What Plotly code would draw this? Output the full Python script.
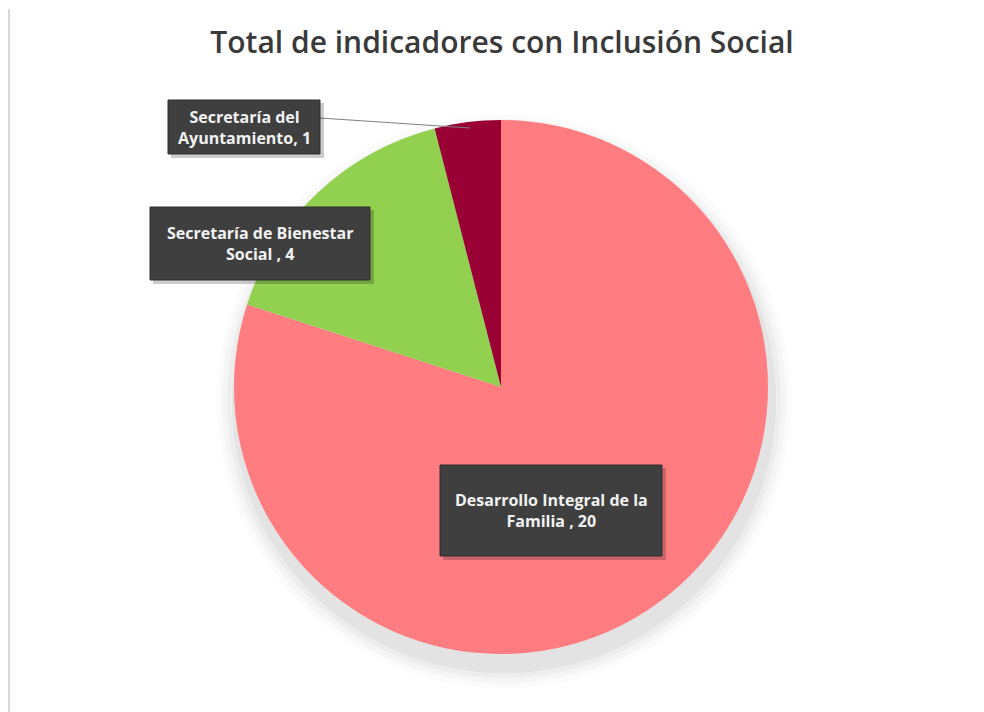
import plotly.graph_objects as go

labels = ["Desarrollo Integral de la Familia", "Secretaría de Bienestar Social", "Secretaría del Ayuntamiento"]
values = [20, 4, 1]
colors = ["#FF7C80", "#92D050", "#990033"]
label_texts = ["Desarrollo Integral de la<br>Familia , 20", "Secretaría de Bienestar<br>Social , 4", "Secretaría del<br>Ayuntamiento, 1"]
title_text = "Total de indicadores con Inclusión Social"

OFF = 8  # page body margin
W, H = 984 - OFF, 712 - OFF
cx, cy, r = 501, 387, 267

def px(x):
    return (x - OFF) / W

def py(y):
    return 1 - (y - OFF) / H

fig = go.Figure()
fig.add_trace(go.Pie(
    labels=labels, values=values, sort=False, direction="clockwise", rotation=0,
    marker=dict(colors=colors, line=dict(width=0)),
    textinfo="none", hoverinfo="label+value", showlegend=False,
    domain=dict(x=[px(cx - r), px(cx + r)], y=[py(cy + r), py(cy - r)]),
))

shapes = []
# soft shadow beneath pie (offset downward)
for grow, op in [(20, 0.015), (15, 0.022), (10, 0.03), (5, 0.04)]:
    shapes.append(dict(type="circle", xref="paper", yref="paper",
                       x0=px(cx - r - grow + 3), x1=px(cx + r + grow + 3),
                       y0=py(cy + r + grow + 14), y1=py(cy - r - grow + 14),
                       fillcolor=f"rgba(0,0,0,{op})", line=dict(width=0), layer="below"))
# frame (left edge)
shapes.append(dict(type="line", xref="paper", yref="paper", x0=px(9), x1=px(9), y0=0, y1=py(9),
                   line=dict(color="#C8C8C8", width=1.5), layer="below"))
# leader line
shapes.append(dict(type="line", xref="paper", yref="paper", x0=px(320), y0=py(118), x1=px(470), y1=py(128),
                   line=dict(color="#808080", width=1.2)))

boxes = [
    (label_texts[0], 440, 465, 662, 556),
    (label_texts[1], 150, 207, 370, 280),
    (label_texts[2], 168, 100, 320, 154),
]
annotations = []
for txt, x0, y0, x1, y1 in boxes:
    shapes.append(dict(type="rect", xref="paper", yref="paper", x0=px(x0 + 3), x1=px(x1 + 4), y0=py(y1 + 4), y1=py(y0 + 3),
                       fillcolor="rgba(0,0,0,0.2)", line=dict(width=0)))
    shapes.append(dict(type="rect", xref="paper", yref="paper", x0=px(x0), x1=px(x1), y0=py(y1), y1=py(y0),
                       fillcolor="#3F3F3F", line=dict(color="#2E2E2E", width=1)))
    annotations.append(dict(text=f"<b>{txt}</b>", xref="paper", yref="paper",
                            x=px((x0 + x1) / 2), y=py((y0 + y1) / 2), xanchor="center", yanchor="middle",
                            showarrow=False, align="center",
                            font=dict(family="Open Sans", size=16, color="#F2F2F2")))

fig.update_layout(
    width=W, height=H, margin=dict(l=0, r=0, t=0, b=0),
    paper_bgcolor="white", plot_bgcolor="white",
    title=dict(text=title_text, x=px(502), xanchor="center", y=py(42), yanchor="middle",
               font=dict(family="Open Sans", size=30, color="#3A3A3A", weight=600)),
    shapes=shapes, annotations=annotations,
)
fig.write_html("out.html")
